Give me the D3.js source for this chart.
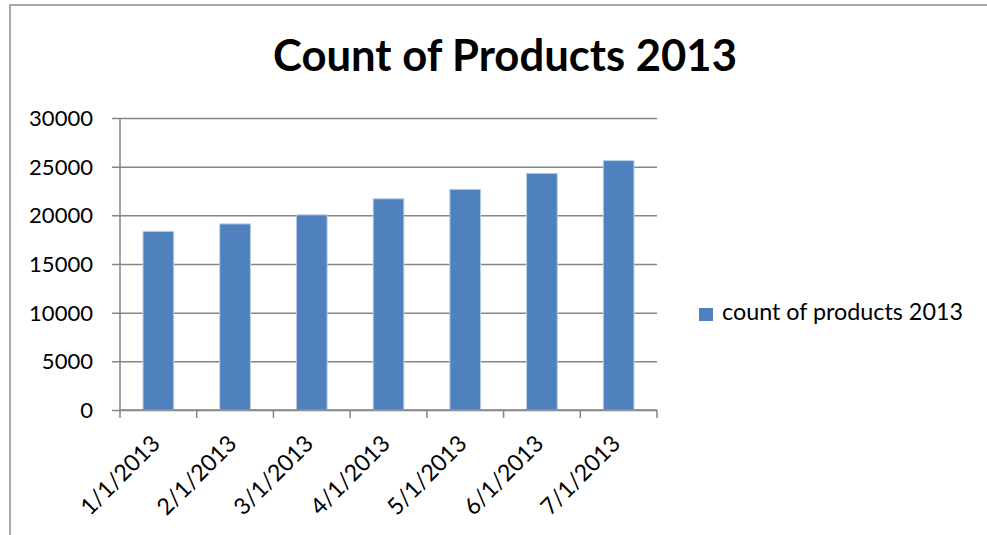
<!DOCTYPE html>
<html>
<head>
<meta charset="utf-8">
<script src="https://cdn.jsdelivr.net/npm/d3@7"></script>
<style>
  html, body { margin: 0; padding: 0; background: #fff; }
  svg { display: block; }
  text { font-family: Lato, "Open Sans", sans-serif; fill: #000; }
</style>
</head>
<body>
<svg id="chart" width="987" height="535"></svg>
<script>
const categories = ["1/1/2013", "2/1/2013", "3/1/2013", "4/1/2013", "5/1/2013", "6/1/2013", "7/1/2013"];
const seriesName = "count of products 2013";
const values = [18350, 19120, 20050, 21700, 22670, 24310, 25620];
const yTicks = [0, 5000, 10000, 15000, 20000, 25000, 30000];
const titleText = "Count of Products 2013";

const svg = d3.select("#chart");
const plot = { left: 120, top: 118, right: 657, bottom: 410 };
const gridColor = "#868686";
const barColor = "#4F81BD";

function fit(sel, target) {
  const node = sel.node();
  const fs = parseFloat(sel.attr("font-size"));
  const w = node.getComputedTextLength();
  sel.attr("font-size", (fs * target / w).toFixed(2));
}

// outer frame
svg.append("rect")
  .attr("x", 10).attr("y", 5)
  .attr("width", 1000).attr("height", 600)
  .attr("fill", "none").attr("stroke", "#8c8c8c").attr("stroke-width", 1.5);

// title
const title = svg.append("text")
  .attr("x", 505).attr("y", 71)
  .attr("text-anchor", "middle")
  .attr("font-weight", "bold")
  .attr("font-size", 40)
  .text(titleText);
fit(title, 464);

const x = d3.scaleBand()
  .domain(categories)
  .range([plot.left, plot.right])
  .paddingInner(0.6)
  .paddingOuter(0.3);

const y = d3.scaleLinear()
  .domain([0, 30000])
  .range([plot.bottom, plot.top]);

// gridlines + y ticks
const yAxis = d3.axisLeft(y)
  .tickValues(yTicks)
  .tickSize(-(plot.right - plot.left))
  .tickSizeOuter(0)
  .tickPadding(0)
  .tickFormat("");
const gy = svg.append("g")
  .attr("transform", `translate(${plot.left},0)`)
  .call(yAxis);
gy.select(".domain").remove();
gy.selectAll(".tick line")
  .attr("x1", -8)
  .attr("stroke", gridColor)
  .attr("stroke-width", 1.5);

// y labels
const yLabels = svg.append("g").selectAll("text")
  .data(yTicks)
  .join("text")
  .attr("x", 93)
  .attr("y", d => y(d))
  .attr("dy", "0.36em")
  .attr("text-anchor", "end")
  .attr("font-size", 22)
  .text(d => d);
{
  const ref = yLabels.filter(d => d === 25000);
  const w = ref.node().getComputedTextLength();
  const fs = 22 * 64 / w;
  yLabels.attr("font-size", fs.toFixed(2));
}
const labelFS = parseFloat(yLabels.attr("font-size"));

// bars
svg.append("g").selectAll("rect")
  .data(categories.map((c, i) => ({ c, v: values[i] })))
  .join("rect")
  .attr("x", d => x(d.c))
  .attr("y", d => y(d.v))
  .attr("width", x.bandwidth())
  .attr("height", d => y(0) - y(d.v))
  .attr("fill", barColor)
  .attr("stroke", "#B9CDE5")
  .attr("stroke-width", 1);

// y axis line
svg.append("line")
  .attr("x1", plot.left).attr("x2", plot.left)
  .attr("y1", plot.top).attr("y2", plot.bottom)
  .attr("stroke", gridColor).attr("stroke-width", 1.5);

// x axis line and ticks
svg.append("line")
  .attr("x1", plot.left).attr("x2", plot.right)
  .attr("y1", plot.bottom).attr("y2", plot.bottom)
  .attr("stroke", gridColor).attr("stroke-width", 1.5);
const step = x.step();
const gap = (step - x.bandwidth()) / 2;
const boundaries = categories.map(c => x(c) - gap).concat([x(categories[categories.length - 1]) + x.bandwidth() + gap]);
svg.append("g").selectAll("line")
  .data(boundaries)
  .join("line")
  .attr("x1", d => d).attr("x2", d => d)
  .attr("y1", plot.bottom).attr("y2", plot.bottom + 8)
  .attr("stroke", gridColor).attr("stroke-width", 1.5);

// x labels rotated
svg.append("g").selectAll("text")
  .data(categories)
  .join("text")
  .attr("text-anchor", "end")
  .attr("font-size", labelFS + 1)
  .attr("transform", c => `translate(${x(c) + x.bandwidth() / 2 + 3},${plot.bottom + 35}) rotate(-45)`)
  .text(c => c);

// legend
svg.append("rect")
  .attr("x", 699).attr("y", 308)
  .attr("width", 14).attr("height", 13)
  .attr("fill", barColor);
const leg = svg.append("text")
  .attr("x", 722).attr("y", 320)
  .attr("font-size", 22)
  .text(seriesName);
fit(leg, 241);
</script>
</body>
</html>
